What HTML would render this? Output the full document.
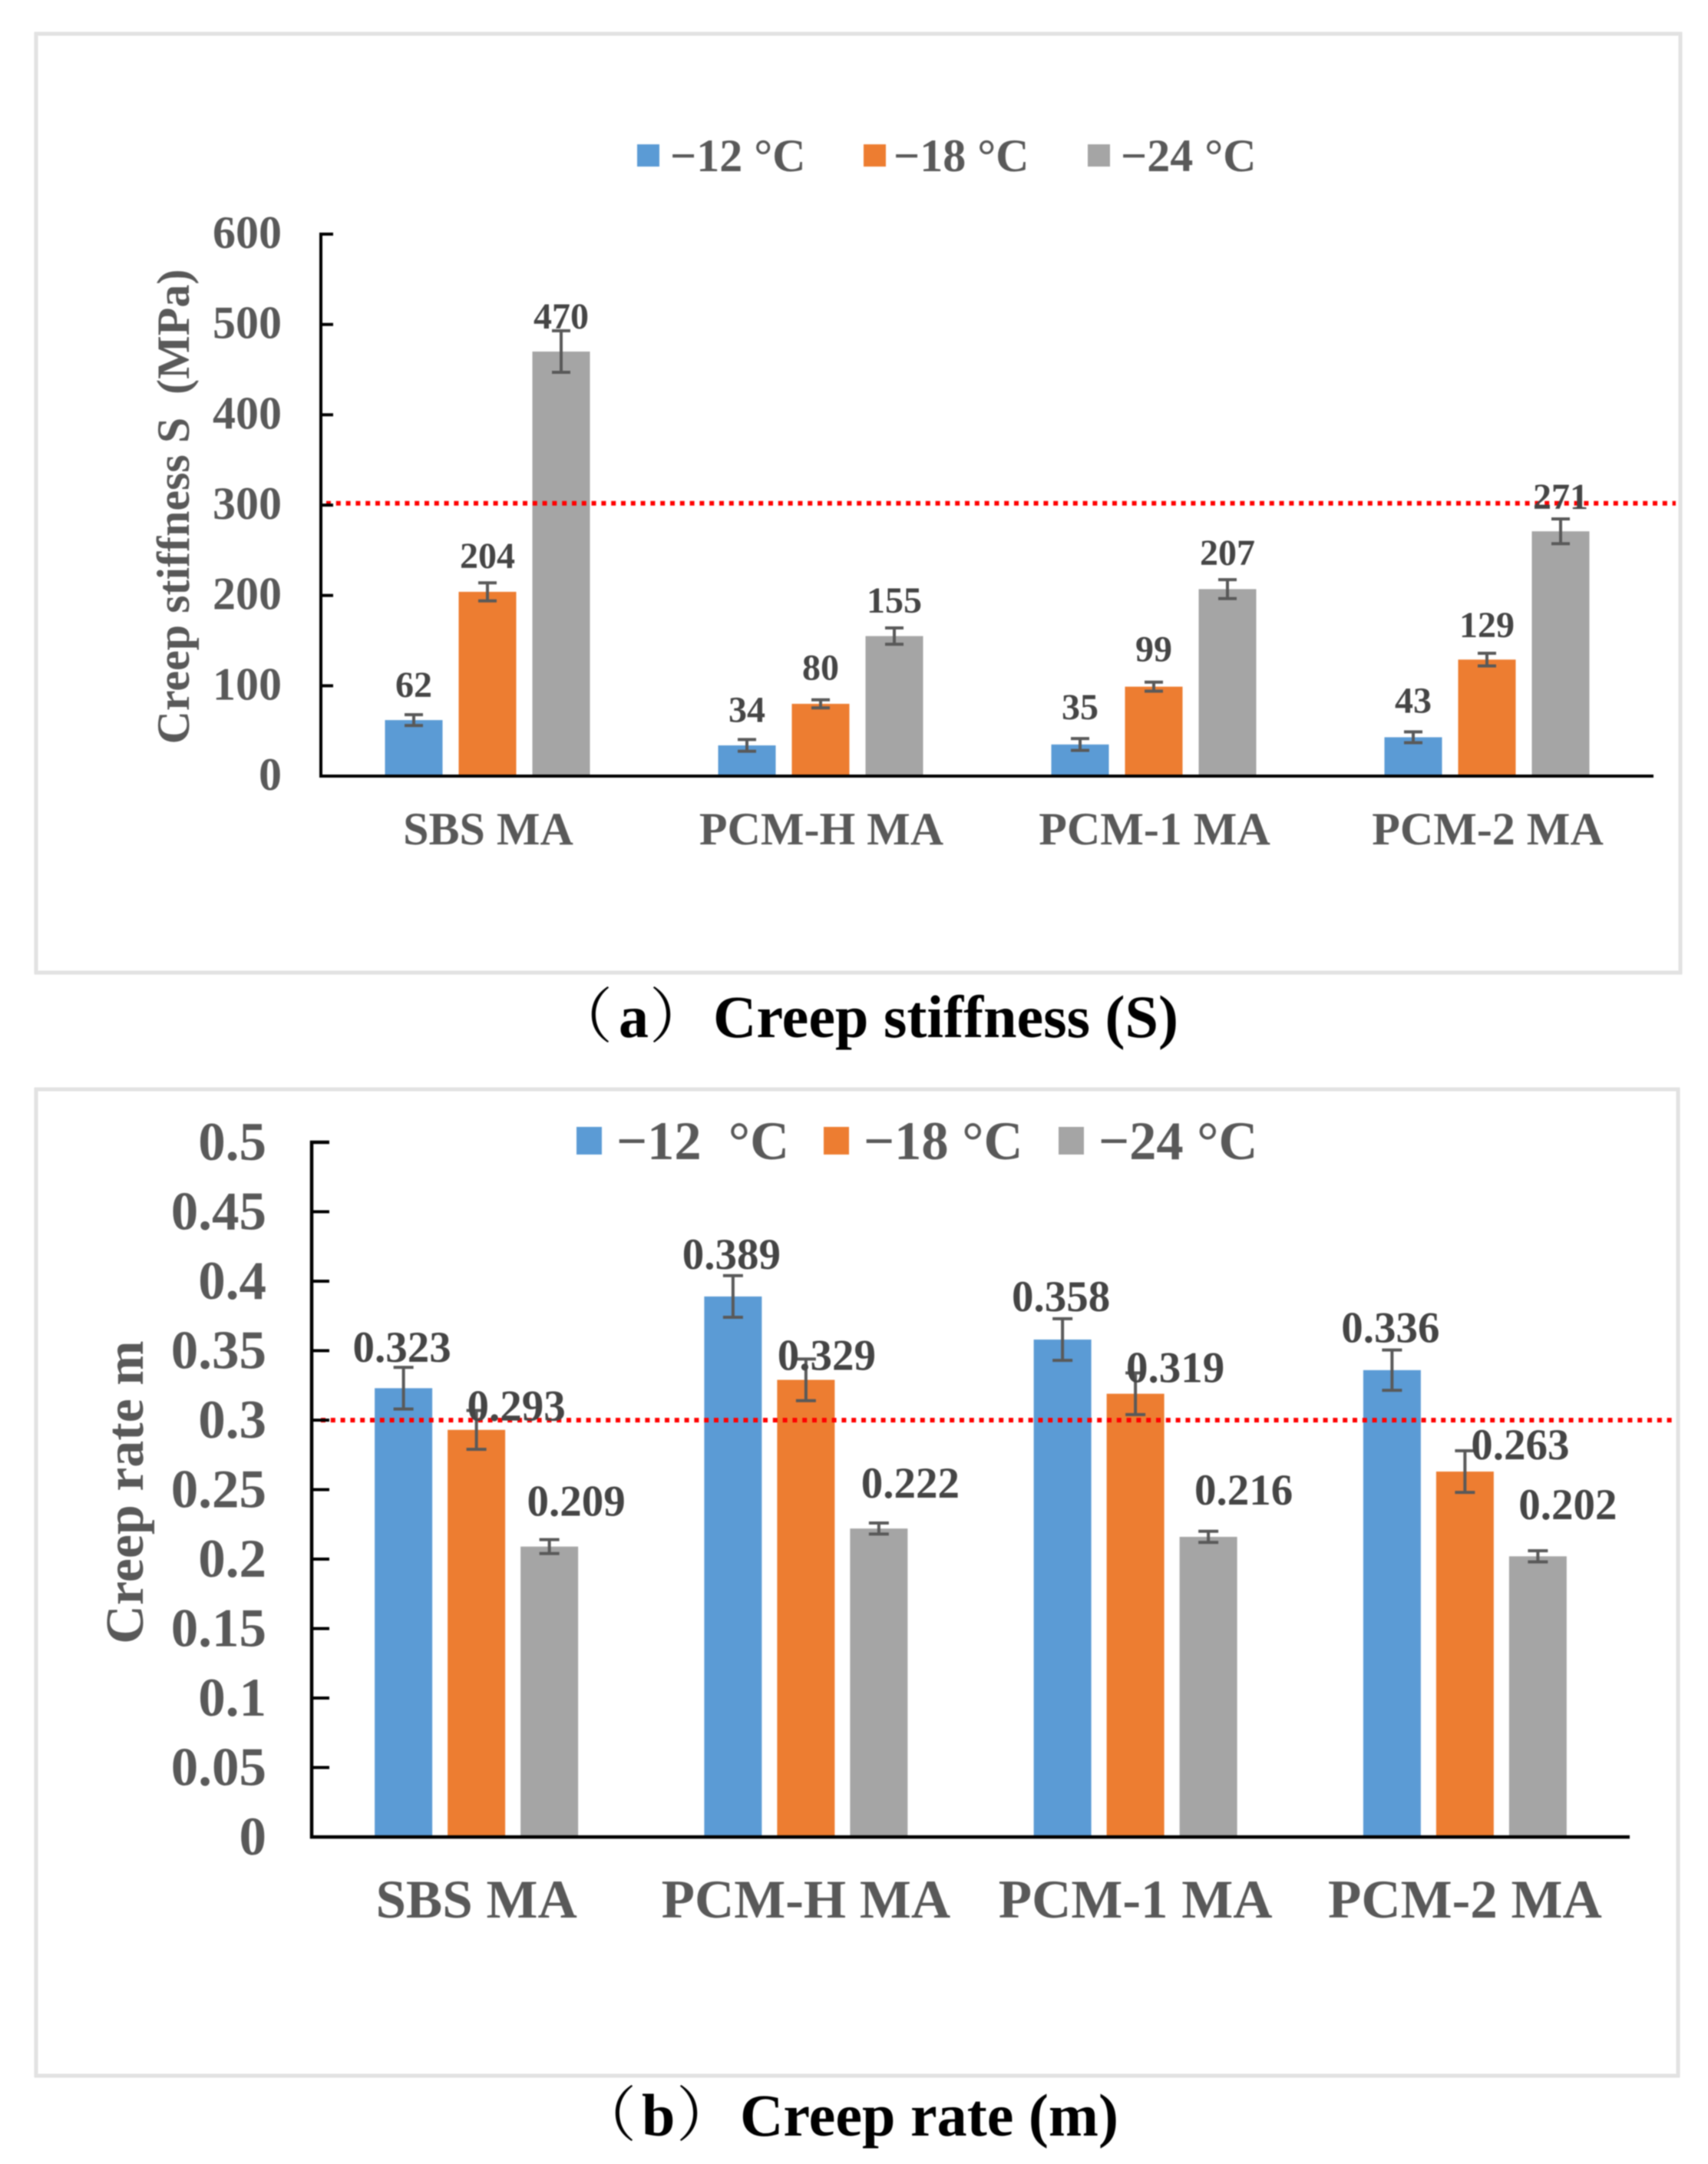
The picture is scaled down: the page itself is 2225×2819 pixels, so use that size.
<!DOCTYPE html>
<html lang="en">
<head>
<meta charset="utf-8">
<title>Creep stiffness and creep rate</title>
<style>
html,body{margin:0;padding:0;background:#fff;width:2225px;height:2819px;overflow:hidden}
svg{display:block;filter:blur(.7px)}
text{font-family:"Liberation Serif","Noto Serif CJK SC",serif;font-weight:bold}
text.paren{font-weight:normal}
</style>
</head>
<body>
<svg id="figure" xmlns="http://www.w3.org/2000/svg" width="2225" height="2819" viewBox="0 0 2225 2819">
  <rect x="0" y="0" width="2225" height="2819" fill="#fff"/>
  <rect x="47" y="44" width="2142" height="1223" fill="#fff" stroke="#e2e2e2" stroke-width="5"/>
  <rect x="47" y="1419" width="2139" height="1285" fill="#fff" stroke="#e2e2e2" stroke-width="5"/>
  <g id="chart-a"></g>
  <g id="chart-b"></g>
  <text class="paren" x="720" y="1351" font-size="78" fill="#000">（</text>
  <text x="806" y="1351" font-size="78" fill="#000">a</text>
  <text class="paren" x="846" y="1351" font-size="78" fill="#000">）</text>
  <text x="929" y="1351" font-size="78" fill="#000" textLength="606" lengthAdjust="spacingAndGlyphs">Creep stiffness (S)</text>
  <text class="paren" x="751" y="2782" font-size="78" fill="#000">（</text>
  <text x="836" y="2782" font-size="78" fill="#000">b</text>
  <text class="paren" x="881" y="2782" font-size="78" fill="#000">）</text>
  <text x="964" y="2782" font-size="78" fill="#000" textLength="493" lengthAdjust="spacingAndGlyphs">Creep rate (m)</text>
</svg>
<script>
const categories = ['SBS MA', 'PCM-H MA', 'PCM-1 MA', 'PCM-2 MA'];
const seriesNames = ['−12 °C', '−18 °C', '−24 °C'];

const stiffnessTicks = [0, 100, 200, 300, 400, 500, 600];
const stiffnessAt12 = [62, 34, 35, 43];
const stiffnessAt18 = [204, 80, 99, 129];
const stiffnessAt24 = [470, 155, 207, 271];
const stiffnessErrAt12 = [6, 6.5, 6.5, 6];
const stiffnessErrAt18 = [10, 4.5, 5, 7];
const stiffnessErrAt24 = [23, 9, 10.5, 13.7];
const stiffnessLimit = 302;

const rateTicks = [0, 0.05, 0.1, 0.15, 0.2, 0.25, 0.3, 0.35, 0.4, 0.45, 0.5];
const rateAt12 = [0.323, 0.389, 0.358, 0.336];
const rateAt18 = [0.293, 0.329, 0.319, 0.263];
const rateAt24 = [0.209, 0.222, 0.216, 0.202];
const rateErrAt12 = [0.015, 0.015, 0.015, 0.0145];
const rateErrAt18 = [0.014, 0.015, 0.015, 0.015];
const rateErrAt24 = [0.005, 0.004, 0.004, 0.004];
const rateLimit = 0.3;

const COLORS = ['#5B9BD5', '#ED7D31', '#A5A5A5'];
const TEXT_GREY = '#595959';
const LABEL_GREY = '#454545';
const NS = 'http://www.w3.org/2000/svg';

function mk(tag, attrs, parent) {
  const el = document.createElementNS(NS, tag);
  for (const k in attrs) el.setAttribute(k, attrs[k]);
  parent.appendChild(el);
  return el;
}

/* ---------- Chart (a) ---------- */
const ga = document.getElementById('chart-a');
const aLeft = 418, aRight = 2154, aBase = 1011, aTop = 305, aMax = 600;
function ax(catIndex, seriesIndex) {
  return aLeft + (aRight - aLeft) / categories.length * (catIndex + 0.5) + (seriesIndex - 1) * 96;
}
function ay(v) { return aBase - (aBase - aTop) * v / aMax; }
const aValues = [stiffnessAt12, stiffnessAt18, stiffnessAt24];
const aErrors = [stiffnessErrAt12, stiffnessErrAt18, stiffnessErrAt24];
/* label offset from the top of the error bar, in px (layout only) */
const aLabelLift = [[23, 23, 25, 25], [19, 26, 27, 21], [3, 20, 19, 13]];

aValues.forEach(function (vals, s) {
  vals.forEach(function (v, c) {
    const bar = mk('rect', {x: ax(c, s) - 37.5, y: ay(v), width: 75, height: aBase - ay(v), fill: COLORS[s]}, ga);
    
    
  });
});

const aLimit = mk('line', {x1: 425, x2: 2183, y1: ay(stiffnessLimit), y2: ay(stiffnessLimit), stroke: '#FF0000', 'stroke-width': 6, 'stroke-dasharray': '6 6.8'}, ga);



aValues.forEach(function (vals, s) {
  vals.forEach(function (v, c) {
    const e = aErrors[s][c], x = ax(c, s);
    const err = mk('path', {
      d: 'M' + x + ' ' + ay(v + e) + 'V' + ay(v - e) + 'M' + (x - 12) + ' ' + ay(v + e) + 'H' + (x + 12) + 'M' + (x - 12) + ' ' + ay(v - e) + 'H' + (x + 12),
      stroke: '#595959', 'stroke-width': 4, fill: 'none'}, ga);
    
    
    const label = mk('text', {x: x, y: ay(v + e) - aLabelLift[s][c], 'text-anchor': 'middle', 'font-size': 48, fill: LABEL_GREY}, ga);
    label.textContent = String(v);
    
    
  });
});

const aAxis = mk('path', {d: 'M' + (aLeft + 16) + ' ' + aTop + 'H' + aLeft + 'V' + aBase + 'H' + aRight, stroke: '#000', 'stroke-width': 4, fill: 'none'}, ga);



stiffnessTicks.forEach(function (t) {
  const tick = mk('line', {x1: aLeft, x2: aLeft + 16, y1: ay(t), y2: ay(t), stroke: '#000', 'stroke-width': 4}, ga);
  
  
  const lab = mk('text', {x: 367, y: ay(t) + 18, 'text-anchor': 'end', 'font-size': 60, fill: TEXT_GREY}, ga);
  lab.textContent = String(t);
  
  
});

categories.forEach(function (name, c) {
  const lab = mk('text', {x: ax(c, 1) + 1, y: 1100, 'text-anchor': 'middle', 'font-size': 60, fill: TEXT_GREY}, ga);
  lab.textContent = name;
  
  
});

const aTitle = mk('text', {transform: 'translate(246 660) rotate(-90)', 'text-anchor': 'middle', 'font-size': 60, fill: TEXT_GREY}, ga);
aTitle.textContent = 'Creep stiffness S\u00A0\u00A0(MPa)';



const aLegendSwatchX = [830, 1125, 1417];
const aLegendTextX = [873, 1164, 1460];
seriesNames.forEach(function (name, s) {
  const sw = mk('rect', {x: aLegendSwatchX[s], y: 188, width: 29, height: 29, fill: COLORS[s]}, ga);
  
  
  const lab = mk('text', {x: aLegendTextX[s], y: 223, 'font-size': 60, fill: TEXT_GREY}, ga);
  lab.textContent = name;
  
  
});

/* ---------- Chart (b) ---------- */
const gb = document.getElementById('chart-b');
const bLeft = 406, bRight = 2123, bBase = 2393, bTop = 1488, bMax = 0.5;
function bx(catIndex, seriesIndex) {
  return bLeft + (bRight - bLeft) / categories.length * (catIndex + 0.5) + (seriesIndex - 1) * 95;
}
function by(v) { return bBase - (bBase - bTop) * v / bMax; }
const bValues = [rateAt12, rateAt18, rateAt24];
const bErrors = [rateErrAt12, rateErrAt18, rateErrAt24];
/* label offsets from bar centre / error-bar top, in px (layout only) */
const bLabelShift = [[-2, -2, -2, -2], [52, 27, 52, 72], [35, 41, 46, 39]];
const bLabelLift = [[7, 9, 10, 10], [-13, -14, -12, -11], [31, 33, 35, 41]];

bValues.forEach(function (vals, s) {
  vals.forEach(function (v, c) {
    const bar = mk('rect', {x: bx(c, s) - 37.5, y: by(v), width: 75, height: bBase - by(v), fill: COLORS[s]}, gb);
    
    
  });
});

const bLimit = mk('line', {x1: 418, x2: 2183, y1: by(rateLimit), y2: by(rateLimit), stroke: '#FF0000', 'stroke-width': 6, 'stroke-dasharray': '6 6.8'}, gb);



bValues.forEach(function (vals, s) {
  vals.forEach(function (v, c) {
    const e = bErrors[s][c], x = bx(c, s);
    const err = mk('path', {
      d: 'M' + x + ' ' + by(v + e) + 'V' + by(v - e) + 'M' + (x - 13) + ' ' + by(v + e) + 'H' + (x + 13) + 'M' + (x - 13) + ' ' + by(v - e) + 'H' + (x + 13),
      stroke: '#595959', 'stroke-width': 4, fill: 'none'}, gb);
    
    
    const label = mk('text', {x: x + bLabelShift[s][c], y: by(v + e) - bLabelLift[s][c], 'text-anchor': 'middle', 'font-size': 57, fill: LABEL_GREY}, gb);
    label.textContent = v.toFixed(3);
    
    
  });
});

const bAxis = mk('path', {d: 'M' + (bLeft + 23) + ' ' + bTop + 'H' + bLeft + 'V' + bBase + 'H' + bRight, stroke: '#000', 'stroke-width': 4.5, fill: 'none'}, gb);



rateTicks.forEach(function (t) {
  const tick = mk('line', {x1: bLeft, x2: bLeft + 23, y1: by(t), y2: by(t), stroke: '#000', 'stroke-width': 4}, gb);
  
  
  const lab = mk('text', {x: 347, y: by(t) + 23, 'text-anchor': 'end', 'font-size': 71, fill: TEXT_GREY}, gb);
  lab.textContent = String(t);
  
  
});

categories.forEach(function (name, c) {
  const lab = mk('text', {x: bx(c, 1), y: 2498, 'text-anchor': 'middle', 'font-size': 71, fill: TEXT_GREY}, gb);
  lab.textContent = name;
  
  
});

const bTitle = mk('text', {transform: 'translate(186 1944) rotate(-90)', 'text-anchor': 'middle', 'font-size': 70, fill: TEXT_GREY}, gb);
bTitle.textContent = 'Creep rate m';



const bLegendNames = ['−12\u00A0\u00A0°C', '−18 °C', '−24 °C'];
const bLegendSwatchX = [751, 1073, 1379];
const bLegendTextX = [803, 1125, 1431];
bLegendNames.forEach(function (name, s) {
  const sw = mk('rect', {x: bLegendSwatchX[s], y: 1468, width: 33, height: 36, fill: COLORS[s]}, gb);
  
  
  const lab = mk('text', {x: bLegendTextX[s], y: 1510, 'font-size': 70.5, fill: TEXT_GREY}, gb);
  lab.textContent = name;
  
  
});
</script>
</body>
</html>
